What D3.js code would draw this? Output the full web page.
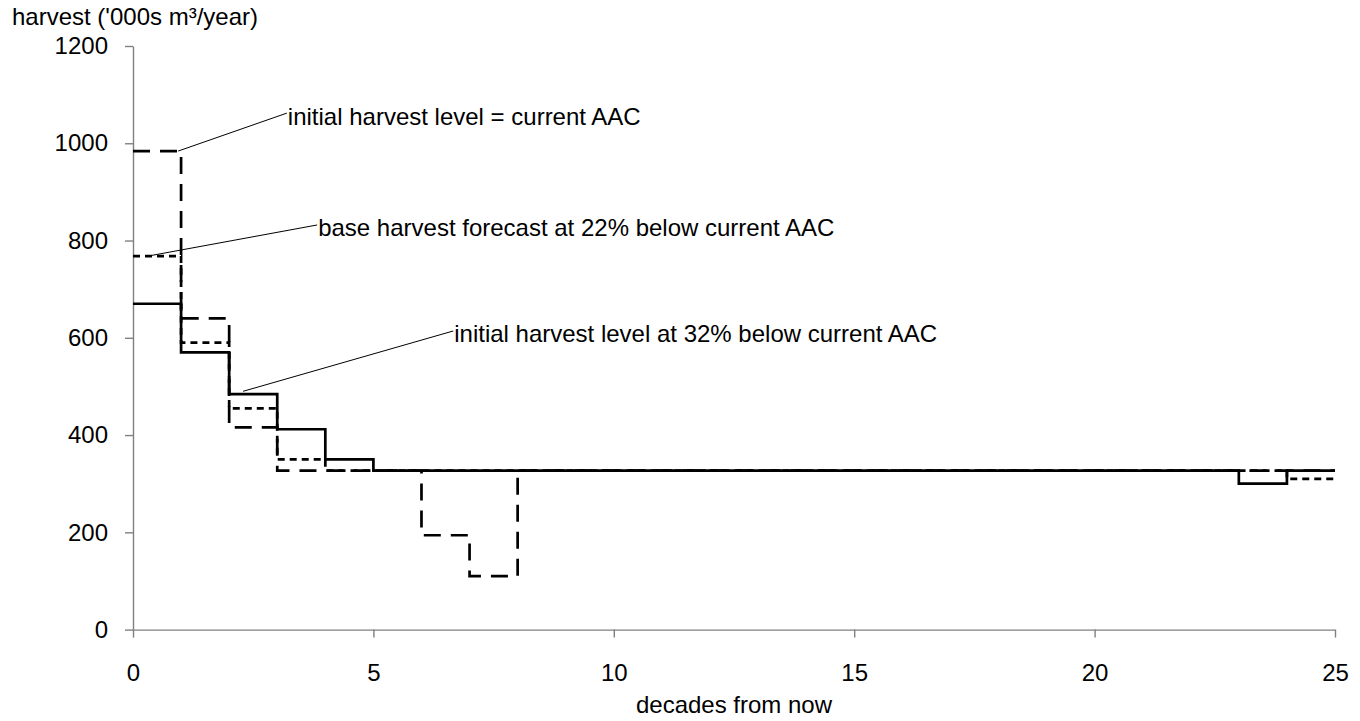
<!DOCTYPE html>
<html>
<head>
<meta charset="utf-8">
<script src="https://cdn.jsdelivr.net/npm/d3@7"></script>
<style>
  html, body { margin: 0; padding: 0; background: #fff; }
  svg { display: block; font-family: "Liberation Sans", Arial, sans-serif; }
</style>
</head>
<body>
<div id="chart"></div>
<script>
const decades = [0, 1, 2, 3, 4, 5, 6, 7, 8, 9, 10, 11, 12, 13, 14, 15, 16, 17, 18, 19, 20, 21, 22, 23, 24, 25];

// harvest per decade ('000s m3/year), one value per decade interval 0-1 ... 24-25
const atCurrentAAC = [984, 640, 416, 327, 327, 327, 194, 110, 327, 327, 327, 327, 327, 327, 327, 327, 327, 327, 327, 327, 327, 327, 327, 327, 327];
const baseForecast = [768, 590, 455, 350, 327, 327, 327, 327, 327, 327, 327, 327, 327, 327, 327, 327, 327, 327, 327, 327, 327, 327, 327, 327, 310];
const below32 = [670, 570, 484, 412, 350, 327, 327, 327, 327, 327, 327, 327, 327, 327, 327, 327, 327, 327, 327, 327, 327, 327, 327, 300, 327];

const yTicks = [0, 200, 400, 600, 800, 1000, 1200];
const xTicks = [0, 5, 10, 15, 20, 25];

const series = [
  { name: "initial harvest level = current AAC", values: atCurrentAAC, dash: "17,10" },
  { name: "base harvest forecast at 22% below current AAC", values: baseForecast, dash: "7,5" },
  { name: "initial harvest level at 32% below current AAC", values: below32, dash: null },
];

// callouts: leader from a point on the line to the label (data units)
const callouts = [
  { text: "initial harvest level = current AAC", from: [0.94, 984], to: [3.2, 1062] },
  { text: "base harvest forecast at 22% below current AAC", from: [0.31, 768], to: [3.83, 832] },
  { text: "initial harvest level at 32% below current AAC", from: [2.29, 490], to: [6.66, 614] },
];

const width = 1360, height = 721;
const plotLeft = 133, plotRight = 1335, plotTop = 46, plotBottom = 629.6;

const svg = d3.select("#chart").append("svg")
  .attr("width", width)
  .attr("height", height);

const x = d3.scaleLinear().domain([0, 25]).range([plotLeft, plotRight]);
const y = d3.scaleLinear().domain([0, 1200]).range([plotBottom, plotTop]);

const axisColor = "#808080";

const gy = svg.append("g")
  .attr("transform", `translate(${plotLeft},0)`)
  .call(d3.axisLeft(y).tickValues(yTicks).tickFormat(d3.format("d"))
    .tickSize(8).tickSizeOuter(0).tickPadding(17));

const gx = svg.append("g")
  .attr("transform", `translate(0,${plotBottom})`)
  .call(d3.axisBottom(x).tickValues(xTicks).tickFormat(d3.format("d"))
    .tickSize(8).tickSizeOuter(0).tickPadding(26));

[gx, gy].forEach((g) => {
  g.select(".domain").attr("stroke", axisColor).attr("stroke-width", 1.4);
  g.selectAll(".tick line").attr("stroke", axisColor).attr("stroke-width", 1.4);
  g.selectAll(".tick text").attr("fill", "#000").attr("font-size", 24)
    .attr("font-family", "'Liberation Sans', Arial, sans-serif");
});

const line = d3.line()
  .x((d) => x(d[0]))
  .y((d) => y(d[1]))
  .curve(d3.curveStepAfter);

series.forEach((s) => {
  const pts = s.values.map((v, i) => [decades[i], v]);
  pts.push([decades[decades.length - 1], s.values[s.values.length - 1]]);
  svg.append("path")
    .attr("d", line(pts))
    .attr("fill", "none")
    .attr("stroke", "#000")
    .attr("stroke-width", 2.7)
    .attr("stroke-dasharray", s.dash);
});

callouts.forEach((c) => {
  svg.append("line")
    .attr("x1", x(c.from[0])).attr("y1", y(c.from[1]))
    .attr("x2", x(c.to[0])).attr("y2", y(c.to[1]))
    .attr("stroke", "#000")
    .attr("stroke-width", 1);
  svg.append("text")
    .attr("x", x(c.to[0]) + 1)
    .attr("y", y(c.to[1]) + 3)
    .attr("dy", "0.35em")
    .attr("font-size", 24)
    .attr("fill", "#000")
    .text(c.text);
});

svg.append("text")
  .attr("x", 12)
  .attr("y", 25)
  .attr("font-size", 24)
  .text("harvest ('000s m³/year)");

svg.append("text")
  .attr("x", (plotLeft + plotRight) / 2)
  .attr("y", 713)
  .attr("text-anchor", "middle")
  .attr("font-size", 24)
  .text("decades from now");
</script>
</body>
</html>
